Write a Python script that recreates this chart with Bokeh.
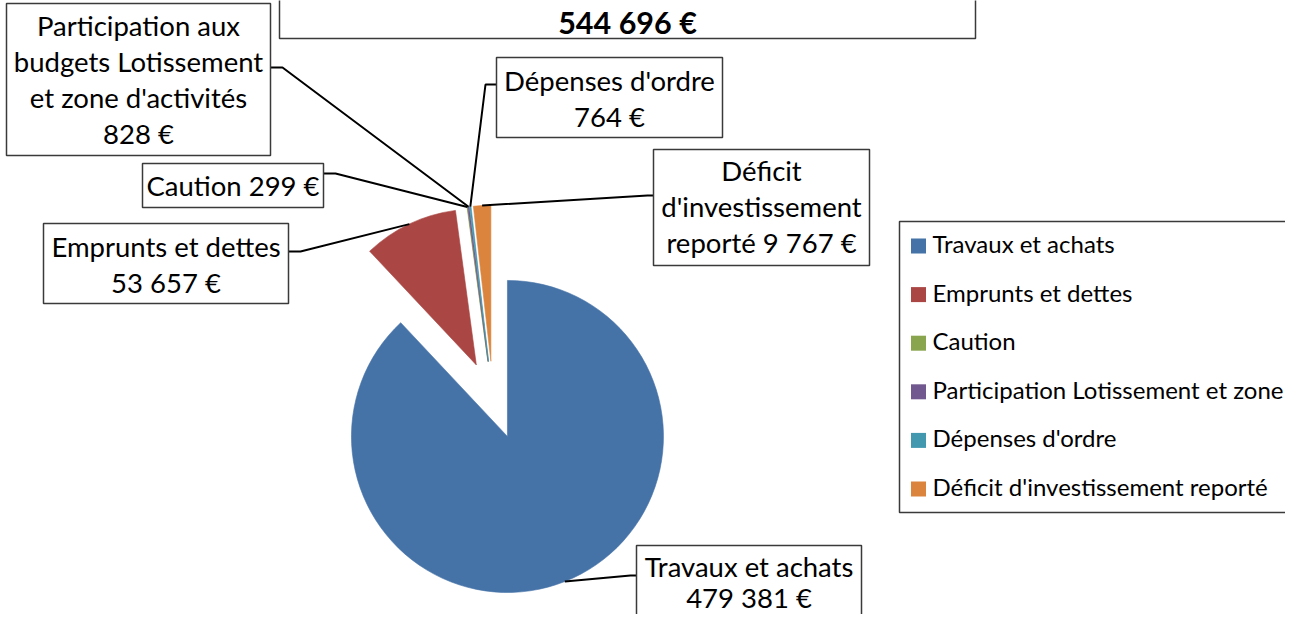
import numpy as np
from bokeh.plotting import figure
from bokeh.models import Range1d
from bokeh.core.properties import value
from bokeh.embed import file_html
from bokeh.resources import INLINE

# ---------------- data ----------------
categories = ["Travaux et achats", "Emprunts et dettes", "Caution",
              "Participation Lotissement et zone", "Dépenses d'ordre",
              "Déficit d'investissement reporté"]
values = [479381, 53657, 299, 828, 764, 9767]
colors = ["#4572A7", "#AA4643", "#89A54E", "#71588F", "#4198AF", "#DB843D"]
label_names = [["Travaux et achats"], ["Emprunts et dettes"], ["Caution"],
               ["Participation aux", "budgets Lotissement", "et zone d'activités"],
               ["Dépenses d'ordre"], ["Déficit", "d'investissement", "reporté"]]


def euro(v):
    return f"{int(v):,}".replace(",", " ") + " €"


# ---------------- layout ----------------
W, H = 1285, 614
FONT = "Lato"
BASE_FIX = 10  # renderer draws alphabetic baseline slightly lower


def Y(sy):  # screen y (from top) -> data y
    return H - sy


def YT(sy):  # text baseline screen y -> data y
    return H - (sy - BASE_FIX)


p = figure(width=W, height=H, x_range=Range1d(0, W), y_range=Range1d(0, H),
           output_backend="svg", toolbar_location=None,
           x_axis_location=None, y_axis_location=None,
           min_border=0, outline_line_color=None)
p.grid.visible = False
p.background_fill_color = "white"
p.border_fill_color = "white"

# pie geometry
CX, CY = 492.6, Y(399.7)
R, D = 156, 39

vals = np.array(values, dtype=float)
frac = vals / vals.sum()
ends = np.cumsum(frac)
starts = ends - frac
start_a = np.pi / 2 - 2 * np.pi * starts
end_a = np.pi / 2 - 2 * np.pi * ends
mid_a = (start_a + end_a) / 2
wx = CX + D * np.cos(mid_a)
wy = CY + D * np.sin(mid_a)

p.wedge(x=wx, y=wy, radius=R, start_angle=start_a, end_angle=end_a,
        direction="clock", fill_color=colors, line_color=colors, line_width=0.6)

# anchors on the arcs
ax = CX + (D + R) * np.cos(mid_a)
ay = CY + (D + R) * np.sin(mid_a)

# label boxes: (left, right, top, bottom) screen, baselines, elbow, attach
label_layout = [
    ((636, 861, 545, 660), [576, 607], (630, 575), (636, 575)),
    ((43, 288, 223, 303), [256, 292], (300, 251), (288, 251)),
    ((142, 323, 163, 207), [195], (335, 173), (323, 173)),
    ((6, 270, 3, 155), [35, 71, 107, 143], (282, 67), (270, 67)),
    ((496, 722, 57, 137), [90, 126], (485, 84), (496, 84)),
    ((653, 869, 149, 265), [180, 216, 252], (647, 195), (653, 195)),
]

# label text lines
label_lines = []
for i, names in enumerate(label_names):
    amt = euro(values[i])
    if i == 2:
        lines = [names[0] + " " + amt]
    elif i == 5:
        lines = names[:-1] + [names[-1] + " " + amt]
    else:
        lines = names + [amt]
    label_lines.append(lines)

# leader lines
xs, ys = [], []
for i, (box, bl, elbow, attach) in enumerate(label_layout):
    xs.append([ax[i], elbow[0], attach[0]])
    ys.append([ay[i], Y(elbow[1]), Y(attach[1])])
p.multi_line(xs=xs, ys=ys, line_color="black", line_width=2)

BOX_LINE = "#3a3a3a"
tx, ty, tt = [], [], []
for i, (box, bl, elbow, attach) in enumerate(label_layout):
    l, r, t, b = box
    p.quad(left=l, right=r, top=Y(t), bottom=Y(b), fill_color="white",
           line_color=BOX_LINE, line_width=1.5)
    for line, base in zip(label_lines[i], bl):
        tx.append((l + r) / 2)
        ty.append(YT(base))
        tt.append(line)
p.text(x=tx, y=ty, text=tt, text_font=value(FONT), text_font_size="27.5px",
       text_align="center", text_baseline="alphabetic", text_color="black")

# title box
p.quad(left=279, right=975, top=Y(-30), bottom=Y(38), fill_color="white",
       line_color=BOX_LINE, line_width=1.5)
p.text(x=[627], y=[YT(31)], text=[euro(vals.sum())], text_font=value(FONT),
       text_font_size="30.5px", text_font_style="bold", text_align="center",
       text_baseline="alphabetic", text_color="black")

# legend
p.quad(left=899, right=1330, top=Y(221), bottom=Y(512), fill_color="white",
       line_color=BOX_LINE, line_width=1.5)
rows = np.arange(len(categories))
sq_y = 245.5 + 48.6 * rows
p.rect(x=[918] * len(categories), y=[Y(v) for v in sq_y], width=15, height=15,
       fill_color=colors, line_color=None)
p.text(x=[932] * len(categories), y=[YT(v + 7.5) for v in sq_y], text=categories,
       text_font=value(FONT), text_font_size="24px", text_align="left",
       text_baseline="alphabetic", text_color="black")

open("out.html", "w").write(file_html(p, INLINE))
